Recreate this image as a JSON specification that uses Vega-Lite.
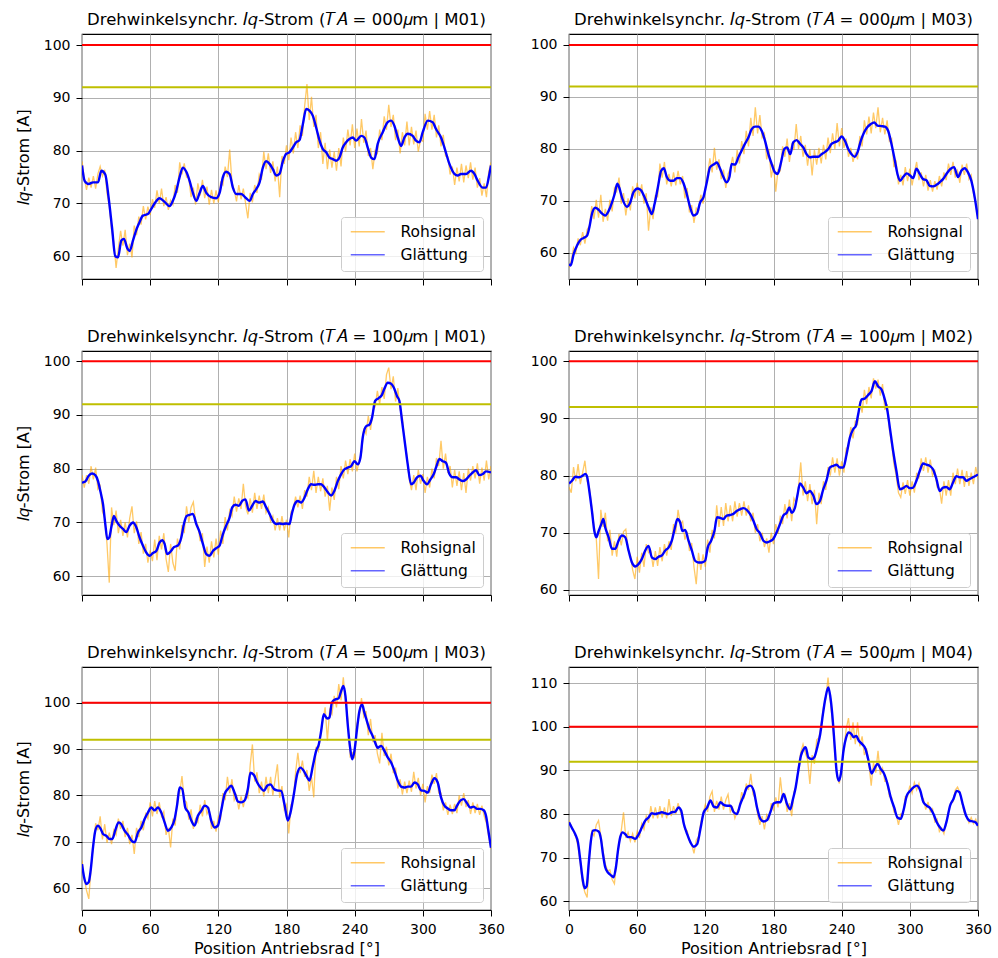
{
  "$schema": "https://vega.github.io/schema/vega-lite/v6.json",
  "background": "white",
  "padding": {"left": 14, "top": 10, "right": 5, "bottom": 2},
  "columns": 2,
  "spacing": {"row": 72, "column": 78},
  "bounds": "flush",
  "resolve": {"scale": {"x": "independent", "y": "independent", "color": "independent"}},
  "config": {
    "view": {"stroke": "#000000", "strokeWidth": 1.2},
    "title": {"font": "DejaVu Sans", "fontSize": 16.5, "fontWeight": "normal", "color": "#000000", "offset": 6},
    "axis": {
      "grid": true, "gridColor": "#b0b0b0", "gridWidth": 1, "domain": false,
      "tickColor": "#000000", "tickSize": 6, "tickWidth": 1,
      "labelFont": "DejaVu Sans", "labelFontSize": 14, "labelColor": "#000000", "labelPadding": 6,
      "labelFlush": false, "labelOverlap": false, "labelBound": false,
      "titleFont": "DejaVu Sans", "titleFontSize": 16, "titleFontWeight": "normal", "titleColor": "#000000"
    },
    "axisX": {"titlePadding": 4},
    "axisY": {"titlePadding": 12},
    "legend": {
      "orient": "bottom-right", "offset": 8, "padding": 7, "strokeColor": "#cccccc", "fillColor": "rgba(255,255,255,0.8)",
      "cornerRadius": 3, "symbolType": "M-1,0H5.8", "symbolSize": 100, "symbolFillColor": "transparent",
      "labelOffset": 37, "labelFont": "DejaVu Sans", "labelFontSize": 15.5, "labelColor": "#000000", "rowPadding": 6
    }
  },
  "datasets": {
    "raw1": [{"x":0,"v":78},{"x":2,"v":74.8},{"x":4,"v":72.6},{"x":6,"v":74.9},{"x":8,"v":73},{"x":10,"v":75.2},{"x":12,"v":72.8},{"x":14,"v":75.6},{"x":16,"v":77},{"x":18,"v":75.2},{"x":20,"v":76.4},{"x":22,"v":72},{"x":24,"v":69.5},{"x":26,"v":65},{"x":28,"v":62.8},{"x":30,"v":57.8},{"x":32,"v":61.5},{"x":34,"v":64.8},{"x":36,"v":62},{"x":38,"v":65},{"x":40,"v":60.2},{"x":42,"v":62.4},{"x":44,"v":59.8},{"x":46,"v":65.8},{"x":48,"v":64},{"x":50,"v":67.5},{"x":52,"v":66},{"x":54,"v":69.5},{"x":56,"v":67},{"x":58,"v":69.4},{"x":60,"v":67.8},{"x":62,"v":70.8},{"x":64,"v":69.2},{"x":66,"v":72.5},{"x":68,"v":70},{"x":70,"v":72.8},{"x":72,"v":69.5},{"x":74,"v":71.2},{"x":76,"v":68.8},{"x":78,"v":70.6},{"x":80,"v":69.8},{"x":82,"v":73.5},{"x":84,"v":72},{"x":86,"v":77.8},{"x":88,"v":75.5},{"x":90,"v":77.6},{"x":92,"v":75},{"x":94,"v":74.8},{"x":96,"v":71.2},{"x":98,"v":73},{"x":100,"v":69.8},{"x":102,"v":73.8},{"x":104,"v":71.5},{"x":106,"v":74.5},{"x":108,"v":71},{"x":110,"v":73.2},{"x":112,"v":69.8},{"x":114,"v":72.6},{"x":116,"v":70},{"x":118,"v":72.5},{"x":120,"v":70.2},{"x":122,"v":74},{"x":124,"v":73.5},{"x":126,"v":77},{"x":128,"v":75},{"x":130,"v":80.2},{"x":132,"v":74},{"x":134,"v":72.5},{"x":136,"v":70.4},{"x":138,"v":73.5},{"x":140,"v":70.8},{"x":142,"v":72.8},{"x":144,"v":70},{"x":146,"v":67.2},{"x":148,"v":72},{"x":150,"v":70.2},{"x":152,"v":73.5},{"x":154,"v":72},{"x":156,"v":75.5},{"x":158,"v":74.5},{"x":160,"v":79.8},{"x":162,"v":76.5},{"x":164,"v":79.5},{"x":166,"v":75.8},{"x":168,"v":78},{"x":170,"v":74.2},{"x":172,"v":77},{"x":174,"v":71.2},{"x":176,"v":79},{"x":178,"v":77.5},{"x":180,"v":81},{"x":182,"v":78.2},{"x":184,"v":82.5},{"x":186,"v":79.5},{"x":188,"v":83.5},{"x":190,"v":80.5},{"x":192,"v":84.8},{"x":194,"v":82.8},{"x":196,"v":88.5},{"x":198,"v":92.6},{"x":200,"v":85.8},{"x":202,"v":90.2},{"x":204,"v":84.5},{"x":206,"v":86.8},{"x":208,"v":80.5},{"x":210,"v":83.5},{"x":212,"v":77.5},{"x":214,"v":81.5},{"x":216,"v":76.5},{"x":218,"v":80.2},{"x":220,"v":76.8},{"x":222,"v":79.8},{"x":224,"v":76.2},{"x":226,"v":80.5},{"x":228,"v":77},{"x":230,"v":82.5},{"x":232,"v":79.8},{"x":234,"v":84},{"x":236,"v":81},{"x":238,"v":85},{"x":240,"v":80.5},{"x":242,"v":84.2},{"x":244,"v":80.8},{"x":246,"v":86},{"x":248,"v":81.5},{"x":250,"v":83.8},{"x":252,"v":79},{"x":254,"v":80.5},{"x":256,"v":76.5},{"x":258,"v":80},{"x":260,"v":79.5},{"x":262,"v":84},{"x":264,"v":82},{"x":266,"v":86.5},{"x":268,"v":84},{"x":270,"v":88.7},{"x":272,"v":84.5},{"x":274,"v":86.8},{"x":276,"v":82},{"x":278,"v":84},{"x":280,"v":79.5},{"x":282,"v":83.5},{"x":284,"v":81},{"x":286,"v":85.5},{"x":288,"v":81},{"x":290,"v":84.5},{"x":292,"v":81.2},{"x":294,"v":83.8},{"x":296,"v":79.8},{"x":298,"v":82},{"x":300,"v":81.8},{"x":302,"v":87},{"x":304,"v":84},{"x":306,"v":87.5},{"x":308,"v":84},{"x":310,"v":86.8},{"x":312,"v":82.5},{"x":314,"v":84.8},{"x":316,"v":80.8},{"x":318,"v":83},{"x":320,"v":79},{"x":322,"v":78.8},{"x":324,"v":75.5},{"x":326,"v":77},{"x":328,"v":73.5},{"x":330,"v":76.8},{"x":332,"v":74.2},{"x":334,"v":77.5},{"x":336,"v":74},{"x":338,"v":77.2},{"x":340,"v":74.8},{"x":342,"v":77.8},{"x":344,"v":74.5},{"x":346,"v":76.8},{"x":348,"v":73},{"x":350,"v":74.8},{"x":352,"v":71.5},{"x":354,"v":73.8},{"x":356,"v":71.2},{"x":358,"v":76},{"x":360,"v":77.8}],
    "glatt1": [{"x":0,"v":77.2},{"x":2.3,"v":74.3},{"x":5.9,"v":73.7},{"x":9.7,"v":74},{"x":14.1,"v":74},{"x":17,"v":76.2},{"x":20.5,"v":75.5},{"x":23.5,"v":71},{"x":26.4,"v":65.5},{"x":29.3,"v":60},{"x":31.7,"v":59.8},{"x":34.6,"v":63},{"x":36.9,"v":63.3},{"x":39.9,"v":61.5},{"x":41.9,"v":61},{"x":44.9,"v":63},{"x":47.8,"v":65},{"x":50.7,"v":66.5},{"x":53.6,"v":67.7},{"x":58,"v":68},{"x":61,"v":69},{"x":63.9,"v":70},{"x":68.3,"v":71},{"x":72.7,"v":70.3},{"x":77.1,"v":69.5},{"x":80,"v":70.5},{"x":83,"v":72.4},{"x":85.9,"v":75},{"x":88.8,"v":76.8},{"x":91.8,"v":76},{"x":94.7,"v":74.3},{"x":97.6,"v":72},{"x":100.6,"v":70.5},{"x":103.5,"v":72},{"x":106.4,"v":73.3},{"x":109.4,"v":72},{"x":113.7,"v":71.2},{"x":118.1,"v":71},{"x":121.1,"v":72},{"x":124,"v":75},{"x":126.9,"v":76},{"x":129.9,"v":75.6},{"x":132.8,"v":73},{"x":135.7,"v":71.8},{"x":140.1,"v":71.8},{"x":144.5,"v":71},{"x":147.5,"v":70.5},{"x":150.4,"v":71.8},{"x":153.3,"v":72.7},{"x":156.3,"v":74},{"x":159.2,"v":76.8},{"x":162.1,"v":78},{"x":165.1,"v":77.5},{"x":168,"v":76.5},{"x":170.9,"v":75.3},{"x":173.8,"v":75.6},{"x":176.8,"v":78},{"x":179.7,"v":79.4},{"x":182.6,"v":79.7},{"x":185.6,"v":80.6},{"x":188.5,"v":81.6},{"x":191.4,"v":82},{"x":194.4,"v":85},{"x":197.3,"v":87.9},{"x":200.2,"v":87.6},{"x":203.2,"v":86.6},{"x":206.1,"v":84.4},{"x":209,"v":82},{"x":212,"v":80.3},{"x":214.9,"v":79.7},{"x":217.8,"v":78.7},{"x":220.8,"v":78.4},{"x":223.7,"v":78.1},{"x":226.6,"v":78.7},{"x":229.5,"v":80.6},{"x":232.5,"v":81.6},{"x":235.4,"v":82.2},{"x":238.3,"v":82.5},{"x":241.3,"v":81.9},{"x":245.7,"v":82.8},{"x":248.6,"v":82.5},{"x":251.5,"v":80.6},{"x":254.5,"v":78.7},{"x":257.4,"v":78.4},{"x":260.3,"v":81.3},{"x":264.7,"v":83.5},{"x":269.1,"v":85.4},{"x":272.1,"v":85.7},{"x":275,"v":84.7},{"x":277.9,"v":82.5},{"x":280.9,"v":80.9},{"x":283.8,"v":82.5},{"x":286.7,"v":83.2},{"x":291.1,"v":82.8},{"x":294,"v":81.9},{"x":297,"v":81.6},{"x":299.9,"v":83.5},{"x":304.3,"v":85.7},{"x":308.7,"v":85.4},{"x":311.6,"v":84.1},{"x":316,"v":82.5},{"x":319,"v":80.6},{"x":323.4,"v":77.5},{"x":327.8,"v":75.6},{"x":330.7,"v":75.3},{"x":333.6,"v":75.6},{"x":338,"v":75.6},{"x":342.4,"v":76.2},{"x":345.4,"v":75.6},{"x":348.3,"v":74.3},{"x":352.7,"v":73},{"x":355.6,"v":73},{"x":358.6,"v":75.6},{"x":360,"v":77.2}],
    "raw2": [{"x":0,"v":57.2},{"x":2,"v":58.5},{"x":4,"v":61},{"x":6,"v":60},{"x":8,"v":62.8},{"x":10,"v":61.5},{"x":12,"v":64},{"x":14,"v":61.8},{"x":16,"v":64.5},{"x":18,"v":65.2},{"x":20,"v":69},{"x":22,"v":66.5},{"x":24,"v":70.2},{"x":26,"v":66.8},{"x":28,"v":71.2},{"x":30,"v":66},{"x":32,"v":68.5},{"x":34,"v":66.2},{"x":36,"v":70.2},{"x":38,"v":68},{"x":40,"v":72.5},{"x":42,"v":71.8},{"x":44,"v":74.5},{"x":46,"v":69.5},{"x":48,"v":71.5},{"x":50,"v":67.2},{"x":52,"v":70.5},{"x":54,"v":68.2},{"x":56,"v":72.8},{"x":58,"v":70.5},{"x":60,"v":73.5},{"x":62,"v":71},{"x":64,"v":73.2},{"x":66,"v":69.5},{"x":68,"v":71.5},{"x":70,"v":64.3},{"x":72,"v":68.8},{"x":74,"v":66.5},{"x":76,"v":71},{"x":78,"v":70.8},{"x":80,"v":77.2},{"x":82,"v":74.5},{"x":84,"v":77.5},{"x":86,"v":73.2},{"x":88,"v":75.2},{"x":90,"v":72.8},{"x":92,"v":75.5},{"x":94,"v":73},{"x":96,"v":75.8},{"x":98,"v":73.2},{"x":100,"v":74.8},{"x":102,"v":70.5},{"x":104,"v":72.5},{"x":106,"v":67.8},{"x":108,"v":69.2},{"x":110,"v":65.8},{"x":112,"v":68.6},{"x":114,"v":68},{"x":116,"v":71.2},{"x":118,"v":69.5},{"x":120,"v":72.5},{"x":122,"v":75},{"x":124,"v":78.2},{"x":126,"v":75.5},{"x":128,"v":80.2},{"x":130,"v":76},{"x":132,"v":78},{"x":134,"v":74.2},{"x":136,"v":76},{"x":138,"v":72.5},{"x":140,"v":75.2},{"x":142,"v":76.2},{"x":144,"v":78.5},{"x":146,"v":75.5},{"x":148,"v":79.8},{"x":150,"v":77.2},{"x":152,"v":81.5},{"x":154,"v":79},{"x":156,"v":83.5},{"x":158,"v":80.5},{"x":160,"v":86},{"x":162,"v":82.5},{"x":164,"v":88},{"x":166,"v":83},{"x":168,"v":86.5},{"x":170,"v":82.2},{"x":172,"v":83},{"x":174,"v":78},{"x":176,"v":80},{"x":178,"v":74.5},{"x":180,"v":77},{"x":182,"v":71.8},{"x":184,"v":76},{"x":186,"v":75.8},{"x":188,"v":80.5},{"x":190,"v":78.5},{"x":192,"v":82},{"x":194,"v":77.5},{"x":196,"v":80.8},{"x":198,"v":79.8},{"x":200,"v":84.8},{"x":202,"v":80},{"x":204,"v":82.5},{"x":206,"v":78.5},{"x":208,"v":80.8},{"x":210,"v":76.8},{"x":212,"v":80},{"x":214,"v":74.9},{"x":216,"v":79.8},{"x":218,"v":77},{"x":220,"v":80.2},{"x":222,"v":77.2},{"x":224,"v":80.8},{"x":226,"v":78},{"x":228,"v":82.2},{"x":230,"v":79.2},{"x":232,"v":83},{"x":234,"v":80},{"x":236,"v":85},{"x":238,"v":80.5},{"x":240,"v":84},{"x":242,"v":80.2},{"x":244,"v":82},{"x":246,"v":78.5},{"x":248,"v":80.2},{"x":250,"v":77.5},{"x":252,"v":79.2},{"x":254,"v":78},{"x":256,"v":82.5},{"x":258,"v":80.5},{"x":260,"v":85.5},{"x":262,"v":82.8},{"x":264,"v":86.2},{"x":266,"v":83},{"x":268,"v":87},{"x":270,"v":84},{"x":272,"v":88},{"x":274,"v":83.2},{"x":276,"v":86},{"x":278,"v":82.8},{"x":280,"v":85.5},{"x":282,"v":81.5},{"x":284,"v":82},{"x":286,"v":76.5},{"x":288,"v":77.5},{"x":290,"v":73.2},{"x":292,"v":75},{"x":294,"v":73},{"x":296,"v":76.5},{"x":298,"v":73.8},{"x":300,"v":76.2},{"x":302,"v":73},{"x":304,"v":75.5},{"x":306,"v":77.5},{"x":308,"v":74},{"x":310,"v":75.5},{"x":312,"v":72.8},{"x":314,"v":75},{"x":316,"v":72},{"x":318,"v":74},{"x":320,"v":71.8},{"x":322,"v":73.8},{"x":324,"v":72.2},{"x":326,"v":74.8},{"x":328,"v":72.8},{"x":330,"v":75.5},{"x":332,"v":74},{"x":334,"v":77.2},{"x":336,"v":75},{"x":338,"v":77.5},{"x":340,"v":74.5},{"x":342,"v":75.8},{"x":344,"v":73.5},{"x":346,"v":77},{"x":348,"v":75},{"x":350,"v":77.2},{"x":352,"v":74.2},{"x":354,"v":75},{"x":356,"v":71.5},{"x":358,"v":69.5},{"x":360,"v":66.5}],
    "glatt2": [{"x":0,"v":57.9},{"x":1.5,"v":57.6},{"x":4.1,"v":59.8},{"x":7,"v":61.4},{"x":10,"v":62.5},{"x":12.9,"v":62.9},{"x":15.8,"v":63.3},{"x":17.9,"v":64.9},{"x":20.2,"v":67.5},{"x":23.1,"v":68.7},{"x":26.1,"v":68.3},{"x":29,"v":67.6},{"x":31.9,"v":67.2},{"x":34.9,"v":68.1},{"x":37.8,"v":69.7},{"x":40.1,"v":71.3},{"x":42.5,"v":73.3},{"x":44.2,"v":72.6},{"x":46.6,"v":70.7},{"x":51,"v":68.9},{"x":53.9,"v":69.7},{"x":56.8,"v":71.7},{"x":60.6,"v":72.4},{"x":63.6,"v":72},{"x":66.5,"v":70.7},{"x":70,"v":68.8},{"x":72.9,"v":67.5},{"x":75.3,"v":69.4},{"x":78.2,"v":72.6},{"x":81.1,"v":75.8},{"x":83.5,"v":76.3},{"x":86.1,"v":74.6},{"x":89.1,"v":73.9},{"x":92,"v":73.9},{"x":94.9,"v":74.4},{"x":97.8,"v":74.4},{"x":100.8,"v":73.4},{"x":103.7,"v":71.3},{"x":106.6,"v":68.8},{"x":109.5,"v":67.2},{"x":112.5,"v":67.5},{"x":115.4,"v":69.7},{"x":118.3,"v":70.7},{"x":121.3,"v":73.6},{"x":124.2,"v":76.5},{"x":128,"v":77.1},{"x":130.1,"v":77.4},{"x":133,"v":76.2},{"x":135.9,"v":74.6},{"x":138.8,"v":73.6},{"x":141.2,"v":74.6},{"x":143.2,"v":77.1},{"x":146.2,"v":77},{"x":149.1,"v":78.4},{"x":152,"v":79.7},{"x":154.9,"v":81},{"x":157.9,"v":82.2},{"x":160.8,"v":83.8},{"x":163.7,"v":84.3},{"x":166.7,"v":84.3},{"x":169.6,"v":83.5},{"x":172.5,"v":81.6},{"x":175.5,"v":79},{"x":178.4,"v":77.1},{"x":181.3,"v":75.5},{"x":183.7,"v":75.2},{"x":186.6,"v":77.4},{"x":189.5,"v":80},{"x":191.9,"v":80.3},{"x":194.8,"v":79},{"x":197.4,"v":81.3},{"x":200.4,"v":81.7},{"x":203.3,"v":81},{"x":206.2,"v":80.3},{"x":209.1,"v":79},{"x":212.1,"v":78.4},{"x":215,"v":78.5},{"x":219.4,"v":78.5},{"x":222.3,"v":79},{"x":225.2,"v":79.4},{"x":228.2,"v":80},{"x":231.1,"v":81},{"x":234,"v":81.3},{"x":237,"v":81.6},{"x":239.9,"v":82.4},{"x":242.8,"v":81.6},{"x":245.8,"v":80},{"x":248.7,"v":79},{"x":251.6,"v":78.5},{"x":254,"v":79.4},{"x":256.9,"v":81.6},{"x":259.8,"v":83.2},{"x":262.7,"v":84.2},{"x":265.7,"v":84.8},{"x":268.6,"v":85.1},{"x":271.5,"v":84.5},{"x":275,"v":84.4},{"x":278,"v":84.3},{"x":280.9,"v":83.5},{"x":283.8,"v":81},{"x":286.8,"v":77.8},{"x":289.1,"v":75.2},{"x":291.4,"v":73.9},{"x":294.4,"v":74.7},{"x":297.3,"v":75.3},{"x":300.2,"v":74.9},{"x":302.9,"v":74.4},{"x":305.8,"v":76.2},{"x":308.7,"v":75.2},{"x":311.7,"v":74.2},{"x":314.6,"v":74},{"x":317.5,"v":72.9},{"x":320.4,"v":72.8},{"x":323.4,"v":73.1},{"x":326.3,"v":73.6},{"x":329.2,"v":74.2},{"x":332.2,"v":75.2},{"x":336,"v":76.2},{"x":338.9,"v":76.5},{"x":342.4,"v":74.6},{"x":345.3,"v":75.8},{"x":348.3,"v":76.3},{"x":351.2,"v":75.5},{"x":354.1,"v":73.9},{"x":357.1,"v":70.7},{"x":360,"v":66.5}],
    "raw3": [{"x":0,"v":78.8},{"x":2,"v":76.5},{"x":4,"v":78.8},{"x":6,"v":77.2},{"x":8,"v":80.5},{"x":10,"v":78},{"x":12,"v":80.2},{"x":14,"v":76.2},{"x":16,"v":76.8},{"x":18,"v":72},{"x":20,"v":70.8},{"x":22,"v":66},{"x":24,"v":58.8},{"x":26,"v":72.8},{"x":28,"v":69.5},{"x":30,"v":72.2},{"x":32,"v":68},{"x":34,"v":70.5},{"x":36,"v":67.5},{"x":38,"v":70},{"x":40,"v":67.2},{"x":42,"v":70.8},{"x":44,"v":73},{"x":46,"v":68},{"x":48,"v":70.2},{"x":50,"v":66},{"x":52,"v":68.2},{"x":54,"v":64.2},{"x":56,"v":66},{"x":58,"v":62.5},{"x":60,"v":64.8},{"x":62,"v":62.8},{"x":64,"v":66.8},{"x":66,"v":63},{"x":68,"v":67.5},{"x":70,"v":65},{"x":72,"v":68},{"x":74,"v":63.2},{"x":76,"v":60.8},{"x":78,"v":66},{"x":80,"v":62.5},{"x":82,"v":61},{"x":84,"v":67},{"x":86,"v":65},{"x":88,"v":69.5},{"x":90,"v":68},{"x":92,"v":73},{"x":94,"v":70},{"x":96,"v":72.8},{"x":98,"v":73.8},{"x":100,"v":70.2},{"x":102,"v":69.5},{"x":104,"v":66.5},{"x":106,"v":68},{"x":108,"v":61.7},{"x":110,"v":65.5},{"x":112,"v":62.5},{"x":114,"v":66.5},{"x":116,"v":63.5},{"x":118,"v":67},{"x":120,"v":64},{"x":122,"v":68.5},{"x":124,"v":66},{"x":126,"v":71},{"x":128,"v":68.5},{"x":130,"v":72.2},{"x":132,"v":71.2},{"x":134,"v":74.8},{"x":136,"v":72},{"x":138,"v":74.5},{"x":140,"v":72.5},{"x":142,"v":77.2},{"x":144,"v":73},{"x":146,"v":71.5},{"x":148,"v":74.5},{"x":150,"v":71.8},{"x":152,"v":75.5},{"x":154,"v":72.5},{"x":156,"v":75},{"x":158,"v":72.5},{"x":160,"v":75.2},{"x":162,"v":71.8},{"x":164,"v":72.8},{"x":166,"v":70.2},{"x":168,"v":71.2},{"x":170,"v":68.5},{"x":172,"v":70.8},{"x":174,"v":68.5},{"x":176,"v":71.2},{"x":178,"v":68.5},{"x":180,"v":70.5},{"x":182,"v":67.2},{"x":184,"v":72},{"x":186,"v":72.5},{"x":188,"v":74.8},{"x":190,"v":72.8},{"x":192,"v":75},{"x":194,"v":72.5},{"x":196,"v":76},{"x":198,"v":74.8},{"x":200,"v":78.5},{"x":202,"v":76},{"x":204,"v":79.6},{"x":206,"v":75.5},{"x":208,"v":78.5},{"x":210,"v":75.8},{"x":212,"v":78.2},{"x":214,"v":74.8},{"x":216,"v":76.8},{"x":218,"v":72.2},{"x":220,"v":76.5},{"x":222,"v":74.2},{"x":224,"v":78.5},{"x":226,"v":76.2},{"x":228,"v":80.5},{"x":230,"v":78.2},{"x":232,"v":81.5},{"x":234,"v":79},{"x":236,"v":81.8},{"x":238,"v":79.5},{"x":240,"v":82.8},{"x":242,"v":79.5},{"x":244,"v":81.5},{"x":246,"v":83},{"x":248,"v":87.5},{"x":250,"v":86.5},{"x":252,"v":89.8},{"x":254,"v":87.2},{"x":256,"v":90.8},{"x":258,"v":91.5},{"x":260,"v":94.5},{"x":262,"v":92},{"x":264,"v":95.2},{"x":266,"v":93},{"x":268,"v":97.5},{"x":270,"v":98.8},{"x":272,"v":94.8},{"x":274,"v":97.2},{"x":276,"v":92.5},{"x":278,"v":95},{"x":280,"v":91},{"x":282,"v":89.5},{"x":284,"v":85},{"x":286,"v":82.5},{"x":288,"v":78},{"x":290,"v":76},{"x":292,"v":78.8},{"x":294,"v":76},{"x":296,"v":79.8},{"x":298,"v":77.2},{"x":300,"v":79},{"x":302,"v":75.5},{"x":304,"v":78.5},{"x":306,"v":76.5},{"x":308,"v":80},{"x":310,"v":78.2},{"x":312,"v":82},{"x":314,"v":80.5},{"x":316,"v":85.2},{"x":318,"v":80},{"x":320,"v":82.8},{"x":322,"v":79.2},{"x":324,"v":80.5},{"x":326,"v":76.5},{"x":328,"v":79.8},{"x":330,"v":76.8},{"x":332,"v":79.5},{"x":334,"v":76},{"x":336,"v":79.2},{"x":338,"v":75.5},{"x":340,"v":80},{"x":342,"v":77.8},{"x":344,"v":80.5},{"x":346,"v":78.2},{"x":348,"v":81},{"x":350,"v":77.2},{"x":352,"v":80.2},{"x":354,"v":77.8},{"x":356,"v":81.5},{"x":358,"v":78},{"x":360,"v":80.5}],
    "glatt3": [{"x":0,"v":77.4},{"x":2.9,"v":77.6},{"x":5.9,"v":78.7},{"x":8.8,"v":79.1},{"x":11.7,"v":78.8},{"x":14.1,"v":77.7},{"x":16.4,"v":75.6},{"x":18.5,"v":73.4},{"x":20.5,"v":69.7},{"x":22.3,"v":66.9},{"x":24,"v":67.2},{"x":25.8,"v":69.1},{"x":28.1,"v":71.2},{"x":30.2,"v":70.3},{"x":33.1,"v":69.4},{"x":36.1,"v":68.8},{"x":39,"v":68.2},{"x":41.9,"v":69.4},{"x":44.9,"v":70},{"x":47.8,"v":69.1},{"x":50.7,"v":67.2},{"x":53.6,"v":65.7},{"x":56.6,"v":64.4},{"x":59.5,"v":63.8},{"x":62.4,"v":64.3},{"x":65.4,"v":64.7},{"x":68.3,"v":66.3},{"x":70.7,"v":66.7},{"x":72.7,"v":66},{"x":75,"v":64.1},{"x":78,"v":64.6},{"x":80.9,"v":65.4},{"x":84.4,"v":65.7},{"x":87.4,"v":67.2},{"x":89.7,"v":69.7},{"x":92.1,"v":71.2},{"x":94.7,"v":71.4},{"x":97.6,"v":71.6},{"x":100.6,"v":69.7},{"x":103.5,"v":68.2},{"x":106.4,"v":66},{"x":109.4,"v":64.1},{"x":112.3,"v":63.8},{"x":115.2,"v":64.7},{"x":118.1,"v":65.2},{"x":121.1,"v":65.7},{"x":124,"v":67.8},{"x":126.9,"v":69.4},{"x":129.9,"v":70.9},{"x":132.2,"v":72.8},{"x":135.1,"v":73.3},{"x":138.1,"v":73.1},{"x":141,"v":74},{"x":143.9,"v":74.3},{"x":146.9,"v":72.2},{"x":149.8,"v":73.1},{"x":152.7,"v":74},{"x":155.7,"v":73.7},{"x":159.2,"v":73.9},{"x":162.1,"v":72.8},{"x":165.1,"v":71.6},{"x":168,"v":70.3},{"x":170.9,"v":69.7},{"x":173.8,"v":69.8},{"x":176.8,"v":69.7},{"x":179.7,"v":69.8},{"x":182.6,"v":69.7},{"x":184.7,"v":71.6},{"x":187,"v":73.3},{"x":190,"v":74},{"x":192.9,"v":73.7},{"x":195.8,"v":74.6},{"x":198.8,"v":76.2},{"x":201.7,"v":77.1},{"x":204.6,"v":77},{"x":207.6,"v":77.1},{"x":210.5,"v":77.1},{"x":213.4,"v":76.5},{"x":216.4,"v":75.6},{"x":219.3,"v":75},{"x":222.2,"v":75.9},{"x":225.2,"v":77.7},{"x":228.1,"v":79},{"x":231,"v":79.9},{"x":233.9,"v":80.2},{"x":236.9,"v":80.5},{"x":239.8,"v":81.4},{"x":242.7,"v":80.8},{"x":245.1,"v":82.1},{"x":247.1,"v":85.8},{"x":250.1,"v":87.9},{"x":253,"v":88.2},{"x":255.3,"v":89.5},{"x":258,"v":92.6},{"x":260.9,"v":93.1},{"x":263.9,"v":93.7},{"x":266.2,"v":94.9},{"x":269.1,"v":96},{"x":272.1,"v":95.8},{"x":274.4,"v":95.1},{"x":277.3,"v":93.5},{"x":279.4,"v":92.6},{"x":281.7,"v":88.9},{"x":284.4,"v":84.5},{"x":286.7,"v":80.8},{"x":289.7,"v":77.1},{"x":292,"v":77.4},{"x":294.9,"v":78.4},{"x":297.9,"v":78.7},{"x":300.8,"v":77.7},{"x":303.7,"v":77.1},{"x":306.7,"v":78},{"x":309.6,"v":79},{"x":311.6,"v":80.2},{"x":314.6,"v":81.8},{"x":317.5,"v":81.4},{"x":320.4,"v":81.1},{"x":323.4,"v":79},{"x":326.3,"v":78.4},{"x":329.2,"v":78.4},{"x":332.2,"v":78},{"x":335.1,"v":77.7},{"x":338,"v":78},{"x":341,"v":78.7},{"x":343.9,"v":79.3},{"x":346.8,"v":79.7},{"x":349.8,"v":78.8},{"x":352.7,"v":79},{"x":355.6,"v":79.5},{"x":360,"v":79.3}],
    "raw4": [{"x":0,"v":78},{"x":2,"v":77},{"x":4,"v":81.5},{"x":6,"v":79},{"x":8,"v":82},{"x":10,"v":78.5},{"x":12,"v":80.5},{"x":14,"v":82.6},{"x":16,"v":79},{"x":18,"v":77.8},{"x":20,"v":74.5},{"x":22,"v":71.2},{"x":24,"v":69},{"x":26,"v":61.9},{"x":28,"v":74},{"x":30,"v":71},{"x":32,"v":73.5},{"x":34,"v":68.5},{"x":36,"v":70.5},{"x":38,"v":66},{"x":40,"v":68.5},{"x":42,"v":65.8},{"x":44,"v":69.8},{"x":46,"v":67.8},{"x":48,"v":70.2},{"x":50,"v":70.6},{"x":52,"v":67},{"x":54,"v":66.2},{"x":56,"v":63.5},{"x":58,"v":61.9},{"x":60,"v":65.8},{"x":62,"v":63},{"x":64,"v":66.5},{"x":66,"v":64},{"x":68,"v":68},{"x":70,"v":66.5},{"x":72,"v":66.8},{"x":74,"v":64},{"x":76,"v":66.8},{"x":78,"v":64.2},{"x":80,"v":67.5},{"x":82,"v":65},{"x":84,"v":68},{"x":86,"v":66},{"x":88,"v":68.5},{"x":90,"v":67},{"x":92,"v":71.5},{"x":94,"v":70},{"x":96,"v":74},{"x":98,"v":71.5},{"x":100,"v":72},{"x":102,"v":68.8},{"x":104,"v":70.2},{"x":106,"v":66.8},{"x":108,"v":68.2},{"x":110,"v":64},{"x":112,"v":61},{"x":114,"v":66.5},{"x":116,"v":63.5},{"x":118,"v":66.2},{"x":120,"v":64},{"x":122,"v":68.8},{"x":124,"v":66.5},{"x":126,"v":70.5},{"x":128,"v":69},{"x":130,"v":74.8},{"x":132,"v":71},{"x":134,"v":74.5},{"x":136,"v":71.2},{"x":138,"v":75.2},{"x":140,"v":72},{"x":142,"v":74.8},{"x":144,"v":72},{"x":146,"v":75.5},{"x":148,"v":72.8},{"x":150,"v":75.2},{"x":152,"v":73},{"x":154,"v":75.5},{"x":156,"v":73},{"x":158,"v":74.8},{"x":160,"v":72},{"x":162,"v":73.5},{"x":164,"v":70},{"x":166,"v":71.5},{"x":168,"v":68.5},{"x":170,"v":70},{"x":172,"v":67.5},{"x":174,"v":69},{"x":176,"v":66.5},{"x":178,"v":70},{"x":180,"v":68},{"x":182,"v":71.5},{"x":184,"v":69.8},{"x":186,"v":73},{"x":188,"v":71.5},{"x":190,"v":75},{"x":192,"v":72.5},{"x":194,"v":75.8},{"x":196,"v":72},{"x":198,"v":76},{"x":200,"v":75.2},{"x":202,"v":78},{"x":204,"v":82.3},{"x":206,"v":76.5},{"x":208,"v":79},{"x":210,"v":75.5},{"x":212,"v":78.5},{"x":214,"v":75},{"x":216,"v":77.5},{"x":218,"v":71.5},{"x":220,"v":77},{"x":222,"v":75},{"x":224,"v":79},{"x":226,"v":77.5},{"x":228,"v":81.5},{"x":230,"v":80},{"x":232,"v":83.2},{"x":234,"v":80.5},{"x":236,"v":83},{"x":238,"v":80},{"x":240,"v":82.5},{"x":242,"v":80.5},{"x":244,"v":84.8},{"x":246,"v":85},{"x":248,"v":88.5},{"x":250,"v":86.5},{"x":252,"v":89.5},{"x":254,"v":89},{"x":256,"v":93},{"x":258,"v":91},{"x":260,"v":95},{"x":262,"v":92.5},{"x":264,"v":95.5},{"x":266,"v":93.5},{"x":268,"v":97},{"x":270,"v":95.2},{"x":272,"v":96.8},{"x":274,"v":94},{"x":276,"v":96},{"x":278,"v":91.5},{"x":280,"v":92.5},{"x":282,"v":88},{"x":284,"v":85.5},{"x":286,"v":82},{"x":288,"v":80},{"x":290,"v":77},{"x":292,"v":76.2},{"x":294,"v":78.8},{"x":296,"v":76.8},{"x":298,"v":79.2},{"x":300,"v":76.5},{"x":302,"v":79},{"x":304,"v":77},{"x":306,"v":80.5},{"x":308,"v":79.5},{"x":310,"v":83},{"x":312,"v":80.8},{"x":314,"v":83.2},{"x":316,"v":80.5},{"x":318,"v":82.8},{"x":320,"v":80},{"x":322,"v":80.8},{"x":324,"v":78},{"x":326,"v":77.8},{"x":328,"v":75.1},{"x":330,"v":79},{"x":332,"v":76.5},{"x":334,"v":79.2},{"x":336,"v":76.5},{"x":338,"v":80.5},{"x":340,"v":78.5},{"x":342,"v":81.2},{"x":344,"v":78.5},{"x":346,"v":81},{"x":348,"v":78},{"x":350,"v":80.8},{"x":352,"v":78.2},{"x":354,"v":80.5},{"x":356,"v":78.5},{"x":358,"v":81.5},{"x":360,"v":79.5}],
    "glatt4": [{"x":0,"v":78.6},{"x":2.6,"v":79.1},{"x":5.6,"v":79.8},{"x":8.5,"v":79.7},{"x":11.4,"v":79.9},{"x":14.4,"v":80.3},{"x":15.8,"v":79.9},{"x":17.9,"v":77.3},{"x":20.2,"v":73.8},{"x":22.3,"v":70.3},{"x":24,"v":69.2},{"x":26.1,"v":70.3},{"x":28.4,"v":71.5},{"x":30.2,"v":72.4},{"x":31.9,"v":70.9},{"x":34.9,"v":69.2},{"x":37.8,"v":67.2},{"x":40.7,"v":67.2},{"x":43.6,"v":68.6},{"x":46.6,"v":69.5},{"x":49.5,"v":69.2},{"x":52.4,"v":66.9},{"x":55.4,"v":64.8},{"x":58.3,"v":64.1},{"x":61.2,"v":64.5},{"x":64.1,"v":65.4},{"x":67.1,"v":66.9},{"x":70,"v":67.7},{"x":72.9,"v":65.7},{"x":75.9,"v":65.4},{"x":78.8,"v":65.8},{"x":81.7,"v":66},{"x":84.7,"v":66.9},{"x":87.6,"v":67.4},{"x":90.5,"v":68.6},{"x":92.9,"v":70.6},{"x":95.5,"v":72.4},{"x":97.8,"v":71.8},{"x":99.9,"v":70.3},{"x":102.2,"v":70.5},{"x":105.2,"v":68.6},{"x":108.1,"v":66.9},{"x":111,"v":65.1},{"x":113.9,"v":64.8},{"x":116.9,"v":64.8},{"x":119.8,"v":65.1},{"x":122.1,"v":67.4},{"x":125.1,"v":68.6},{"x":128,"v":70.3},{"x":130.3,"v":72.7},{"x":133,"v":72.6},{"x":135.9,"v":72.4},{"x":138.8,"v":73},{"x":141.8,"v":73.1},{"x":144.7,"v":73.3},{"x":147.6,"v":73.8},{"x":150.6,"v":74.1},{"x":153.5,"v":74.3},{"x":156.4,"v":74},{"x":159.3,"v":73.3},{"x":162.3,"v":72.1},{"x":165.2,"v":70.6},{"x":168.1,"v":69.9},{"x":171.1,"v":68.6},{"x":174,"v":68.3},{"x":176.9,"v":68.5},{"x":179.8,"v":68.9},{"x":182.8,"v":70.1},{"x":185.7,"v":71.5},{"x":188.6,"v":73},{"x":191.6,"v":73.5},{"x":193.9,"v":74.4},{"x":196,"v":73.5},{"x":198.9,"v":74.4},{"x":201.2,"v":76.7},{"x":203.3,"v":78.6},{"x":206.2,"v":77.9},{"x":209.1,"v":76.9},{"x":212.1,"v":77.3},{"x":215,"v":76.5},{"x":217.9,"v":75},{"x":220.9,"v":75.6},{"x":223.8,"v":77.6},{"x":226.7,"v":79.2},{"x":229.6,"v":81.4},{"x":232.6,"v":81.7},{"x":235.5,"v":81.9},{"x":238.4,"v":81.4},{"x":241.4,"v":81.4},{"x":244.3,"v":83.7},{"x":247.2,"v":86.6},{"x":250.1,"v":88.1},{"x":252.5,"v":88.7},{"x":254.5,"v":90.7},{"x":257.5,"v":93.3},{"x":260.4,"v":93.5},{"x":263.3,"v":94.1},{"x":266.3,"v":94.8},{"x":269.2,"v":96.5},{"x":272.1,"v":95.6},{"x":275,"v":95.1},{"x":278,"v":93.3},{"x":280.3,"v":91.3},{"x":282.4,"v":88.4},{"x":285.3,"v":84.3},{"x":288.2,"v":80.8},{"x":291.2,"v":77.6},{"x":294.1,"v":77.8},{"x":297,"v":78.2},{"x":299.9,"v":77.8},{"x":302.9,"v":77.9},{"x":305.8,"v":79.1},{"x":308.7,"v":80.8},{"x":311.7,"v":82.1},{"x":314.6,"v":81.9},{"x":317.5,"v":81.7},{"x":320.4,"v":81.1},{"x":323.4,"v":79.4},{"x":326.3,"v":77.3},{"x":329.2,"v":77.9},{"x":332.2,"v":78},{"x":335.1,"v":77.6},{"x":338,"v":78.8},{"x":341,"v":79.9},{"x":343.9,"v":79.7},{"x":346.8,"v":79.7},{"x":349.8,"v":79.1},{"x":352.7,"v":79.4},{"x":355.6,"v":79.7},{"x":360,"v":80.2}],
    "raw5": [{"x":0,"v":66},{"x":2,"v":62},{"x":4,"v":59.5},{"x":6,"v":57.7},{"x":8,"v":64.5},{"x":10,"v":69.5},{"x":12,"v":74},{"x":14,"v":72.5},{"x":16,"v":75.5},{"x":18,"v":70.5},{"x":20,"v":73.8},{"x":22,"v":69.8},{"x":24,"v":72},{"x":26,"v":69.5},{"x":28,"v":72.5},{"x":30,"v":71.5},{"x":32,"v":75},{"x":34,"v":72.8},{"x":36,"v":74.5},{"x":38,"v":71},{"x":40,"v":73},{"x":42,"v":69.5},{"x":44,"v":71.5},{"x":46,"v":67.4},{"x":48,"v":73},{"x":50,"v":71},{"x":52,"v":74.5},{"x":54,"v":72.5},{"x":56,"v":76},{"x":58,"v":75},{"x":60,"v":78.5},{"x":62,"v":75.5},{"x":64,"v":78.8},{"x":66,"v":76},{"x":68,"v":78.5},{"x":70,"v":75.5},{"x":72,"v":76.5},{"x":74,"v":71.5},{"x":76,"v":73},{"x":78,"v":68.8},{"x":80,"v":75},{"x":82,"v":73.5},{"x":84,"v":79.5},{"x":86,"v":80.5},{"x":88,"v":84.2},{"x":90,"v":79},{"x":92,"v":78.5},{"x":94,"v":74.8},{"x":96,"v":77},{"x":98,"v":72.8},{"x":100,"v":75},{"x":102,"v":74.2},{"x":104,"v":78},{"x":106,"v":75.5},{"x":108,"v":79},{"x":110,"v":76},{"x":112,"v":77},{"x":114,"v":72.8},{"x":116,"v":74.5},{"x":118,"v":72.2},{"x":120,"v":75.5},{"x":122,"v":75},{"x":124,"v":80.5},{"x":126,"v":79},{"x":128,"v":84},{"x":130,"v":80.5},{"x":132,"v":83.5},{"x":134,"v":79},{"x":136,"v":80},{"x":138,"v":77},{"x":140,"v":79.8},{"x":142,"v":77.5},{"x":144,"v":80.2},{"x":146,"v":79.5},{"x":148,"v":86.5},{"x":150,"v":91},{"x":152,"v":83},{"x":154,"v":85},{"x":156,"v":80.5},{"x":158,"v":83},{"x":160,"v":79.8},{"x":162,"v":84},{"x":164,"v":80.5},{"x":166,"v":84},{"x":168,"v":80},{"x":170,"v":83.5},{"x":172,"v":86.7},{"x":174,"v":79.5},{"x":176,"v":82},{"x":178,"v":77},{"x":180,"v":78},{"x":182,"v":71.8},{"x":184,"v":78},{"x":186,"v":79},{"x":188,"v":85},{"x":190,"v":89.2},{"x":192,"v":84.8},{"x":194,"v":87.5},{"x":196,"v":84},{"x":198,"v":85.5},{"x":200,"v":81},{"x":202,"v":84},{"x":204,"v":79.6},{"x":206,"v":90.5},{"x":208,"v":89.5},{"x":210,"v":93},{"x":212,"v":96},{"x":214,"v":99},{"x":216,"v":91.8},{"x":218,"v":98.5},{"x":220,"v":97.5},{"x":222,"v":101.5},{"x":224,"v":99},{"x":226,"v":104},{"x":228,"v":100.5},{"x":230,"v":105.5},{"x":232,"v":100},{"x":234,"v":96.5},{"x":236,"v":88.5},{"x":238,"v":89.2},{"x":240,"v":88},{"x":242,"v":95.5},{"x":244,"v":97},{"x":246,"v":101},{"x":248,"v":97},{"x":250,"v":98.2},{"x":252,"v":93},{"x":254,"v":96.5},{"x":256,"v":91.5},{"x":258,"v":93},{"x":260,"v":89},{"x":262,"v":86.9},{"x":264,"v":93.5},{"x":266,"v":88.5},{"x":268,"v":90.5},{"x":270,"v":86.5},{"x":272,"v":89},{"x":274,"v":84.8},{"x":276,"v":86},{"x":278,"v":81.5},{"x":280,"v":83.5},{"x":282,"v":80.2},{"x":284,"v":83},{"x":286,"v":80.5},{"x":288,"v":83.2},{"x":290,"v":80.8},{"x":292,"v":85.1},{"x":294,"v":81.5},{"x":296,"v":83.8},{"x":298,"v":80},{"x":300,"v":82.5},{"x":302,"v":78.5},{"x":304,"v":82},{"x":306,"v":80.5},{"x":308,"v":84.5},{"x":310,"v":82.5},{"x":312,"v":84.8},{"x":314,"v":80.5},{"x":316,"v":80.5},{"x":318,"v":76.8},{"x":320,"v":78.5},{"x":322,"v":75.8},{"x":324,"v":78},{"x":326,"v":76},{"x":328,"v":78.2},{"x":330,"v":76.2},{"x":332,"v":80},{"x":334,"v":77.8},{"x":336,"v":80.5},{"x":338,"v":77.5},{"x":340,"v":79},{"x":342,"v":76},{"x":344,"v":78.5},{"x":346,"v":76.2},{"x":348,"v":78.2},{"x":350,"v":75.8},{"x":352,"v":77.8},{"x":354,"v":75.5},{"x":356,"v":74},{"x":358,"v":71},{"x":360,"v":68.5}],
    "glatt5": [{"x":0,"v":65.2},{"x":1.8,"v":62.4},{"x":3.8,"v":60.9},{"x":5.9,"v":61.3},{"x":7.6,"v":63.8},{"x":9.7,"v":68.8},{"x":11.7,"v":72.4},{"x":14.1,"v":73.5},{"x":16.4,"v":72.8},{"x":18.5,"v":71.7},{"x":21.4,"v":71.3},{"x":24.3,"v":70.6},{"x":26.7,"v":70.6},{"x":29.3,"v":72.5},{"x":32.2,"v":74.2},{"x":34.6,"v":73.8},{"x":37.5,"v":72.4},{"x":40.5,"v":71.5},{"x":43.4,"v":70.3},{"x":46.3,"v":69.9},{"x":49.3,"v":72},{"x":52.2,"v":73.1},{"x":55.1,"v":74.9},{"x":58,"v":76.3},{"x":61,"v":77.4},{"x":63.9,"v":76.8},{"x":66.8,"v":77.4},{"x":69.8,"v":76.3},{"x":72.7,"v":74.2},{"x":75.6,"v":72.4},{"x":78.6,"v":73.1},{"x":81.5,"v":74.9},{"x":83.8,"v":78.1},{"x":85.9,"v":81.7},{"x":88.2,"v":81.4},{"x":90.9,"v":77.4},{"x":93.8,"v":76.3},{"x":96.2,"v":74.6},{"x":99.1,"v":73.5},{"x":102,"v":75.6},{"x":105,"v":76.7},{"x":107.9,"v":77.8},{"x":110.8,"v":77.4},{"x":113.7,"v":74.6},{"x":116.7,"v":73.1},{"x":119.6,"v":73.5},{"x":122.5,"v":76.7},{"x":125.5,"v":80.3},{"x":128.4,"v":81.4},{"x":131.3,"v":82.1},{"x":134.3,"v":80.6},{"x":137.2,"v":78.7},{"x":140.1,"v":78.5},{"x":143.1,"v":78.9},{"x":146,"v":81.4},{"x":148.3,"v":84.9},{"x":151.3,"v":84.4},{"x":154.2,"v":82.8},{"x":157.1,"v":81.7},{"x":160.1,"v":81},{"x":163,"v":82.1},{"x":165.9,"v":82.4},{"x":168.9,"v":81.4},{"x":171.8,"v":81.1},{"x":175.3,"v":81},{"x":178.2,"v":78.1},{"x":181.2,"v":74.6},{"x":183.5,"v":76.3},{"x":186.5,"v":80.3},{"x":189.4,"v":84.6},{"x":192.3,"v":86},{"x":195.2,"v":85.3},{"x":198.2,"v":83.9},{"x":200.2,"v":83.2},{"x":203.2,"v":86.4},{"x":206.1,"v":89.6},{"x":208.4,"v":91},{"x":210.5,"v":93.9},{"x":212.8,"v":97.5},{"x":215.8,"v":96.6},{"x":217.8,"v":96.8},{"x":219.9,"v":100},{"x":222.8,"v":100.7},{"x":225.7,"v":100.9},{"x":228.1,"v":102.5},{"x":230.1,"v":103.6},{"x":231.9,"v":101.4},{"x":233.9,"v":95.3},{"x":236,"v":90.3},{"x":237.8,"v":87.8},{"x":239.8,"v":89.6},{"x":242.2,"v":94.6},{"x":244.2,"v":98.2},{"x":246.6,"v":99.6},{"x":248.6,"v":97.8},{"x":250.7,"v":96.1},{"x":253,"v":94.3},{"x":255.9,"v":92.8},{"x":258,"v":91.4},{"x":260.3,"v":90.3},{"x":263.3,"v":90.7},{"x":266.2,"v":89.6},{"x":269.1,"v":88.2},{"x":272.1,"v":87.1},{"x":275,"v":85.3},{"x":277.9,"v":83.2},{"x":280.9,"v":81.9},{"x":283.8,"v":81.7},{"x":286.7,"v":81.9},{"x":289.7,"v":81.9},{"x":292.6,"v":82.8},{"x":295.5,"v":82.4},{"x":298.4,"v":81.1},{"x":301.4,"v":81},{"x":304.3,"v":80.6},{"x":307.2,"v":82.4},{"x":310.2,"v":83.7},{"x":313.1,"v":82.8},{"x":316,"v":79.6},{"x":319,"v":77.8},{"x":321.9,"v":77.2},{"x":324.8,"v":76.8},{"x":327.8,"v":76.8},{"x":330.1,"v":77.8},{"x":333,"v":78.9},{"x":336,"v":79.2},{"x":338.9,"v":78.3},{"x":341.8,"v":77.4},{"x":344.8,"v":77.6},{"x":347.7,"v":77.1},{"x":350.6,"v":77.1},{"x":353.6,"v":76.8},{"x":355.6,"v":75.6},{"x":357.7,"v":72.4},{"x":360,"v":68.7}],
    "raw6": [{"x":0,"v":78.5},{"x":2,"v":77.2},{"x":4,"v":76},{"x":6,"v":74.8},{"x":8,"v":72.5},{"x":10,"v":68.5},{"x":12,"v":64},{"x":14,"v":62},{"x":16,"v":60.9},{"x":18,"v":70.5},{"x":20,"v":76},{"x":22,"v":75},{"x":24,"v":77.5},{"x":26,"v":78.5},{"x":28,"v":75},{"x":30,"v":71.5},{"x":32,"v":68.5},{"x":34,"v":67},{"x":36,"v":67.2},{"x":38,"v":65},{"x":40,"v":64},{"x":42,"v":69.5},{"x":44,"v":73},{"x":46,"v":76.2},{"x":48,"v":80.4},{"x":50,"v":74.5},{"x":52,"v":75.8},{"x":54,"v":73.8},{"x":56,"v":75.5},{"x":58,"v":73.5},{"x":60,"v":76},{"x":62,"v":74.5},{"x":64,"v":77.8},{"x":66,"v":76.5},{"x":68,"v":79.5},{"x":70,"v":78},{"x":72,"v":81.8},{"x":74,"v":79},{"x":76,"v":81.5},{"x":78,"v":79},{"x":80,"v":81.8},{"x":82,"v":79.2},{"x":84,"v":81.5},{"x":86,"v":79},{"x":88,"v":83.4},{"x":90,"v":79.5},{"x":92,"v":81.8},{"x":94,"v":80},{"x":96,"v":82.5},{"x":98,"v":80.5},{"x":100,"v":79},{"x":102,"v":76.5},{"x":104,"v":76.2},{"x":106,"v":73.8},{"x":108,"v":73},{"x":110,"v":71},{"x":112,"v":74},{"x":114,"v":74.8},{"x":116,"v":78},{"x":118,"v":80},{"x":120,"v":82.2},{"x":122,"v":80.5},{"x":124,"v":84},{"x":126,"v":85.2},{"x":128,"v":80.5},{"x":130,"v":83},{"x":132,"v":81},{"x":134,"v":84},{"x":136,"v":81},{"x":138,"v":83.2},{"x":140,"v":84.5},{"x":142,"v":80.5},{"x":144,"v":81.5},{"x":146,"v":79},{"x":148,"v":80.5},{"x":150,"v":81.5},{"x":152,"v":85},{"x":154,"v":83.5},{"x":156,"v":87},{"x":158,"v":85.5},{"x":160,"v":89.2},{"x":162,"v":84.5},{"x":164,"v":83.5},{"x":166,"v":80},{"x":168,"v":77.5},{"x":170,"v":79.5},{"x":172,"v":76.5},{"x":174,"v":79.8},{"x":176,"v":78.8},{"x":178,"v":82.5},{"x":180,"v":81},{"x":182,"v":83.8},{"x":184,"v":81.5},{"x":186,"v":88.4},{"x":188,"v":83.5},{"x":190,"v":84.5},{"x":192,"v":80.5},{"x":194,"v":82.5},{"x":196,"v":79.5},{"x":198,"v":85},{"x":200,"v":86.5},{"x":202,"v":91},{"x":204,"v":94.2},{"x":206,"v":96},{"x":208,"v":94},{"x":210,"v":92.5},{"x":212,"v":86.9},{"x":214,"v":93.5},{"x":216,"v":91.5},{"x":218,"v":97},{"x":220,"v":97.5},{"x":222,"v":100.5},{"x":224,"v":104.5},{"x":226,"v":106.5},{"x":228,"v":111.3},{"x":230,"v":106},{"x":232,"v":101},{"x":234,"v":94},{"x":236,"v":88.5},{"x":238,"v":87},{"x":240,"v":91},{"x":242,"v":95},{"x":244,"v":99.5},{"x":246,"v":102},{"x":248,"v":97},{"x":250,"v":101},{"x":252,"v":96},{"x":254,"v":101},{"x":256,"v":95.5},{"x":258,"v":97.8},{"x":260,"v":93.5},{"x":262,"v":95},{"x":264,"v":91.5},{"x":266,"v":86.5},{"x":268,"v":91.8},{"x":270,"v":89.5},{"x":272,"v":94.5},{"x":274,"v":89},{"x":276,"v":90.5},{"x":278,"v":87.5},{"x":280,"v":87.5},{"x":282,"v":84},{"x":284,"v":83.8},{"x":286,"v":80.5},{"x":288,"v":80},{"x":290,"v":77.5},{"x":292,"v":80},{"x":294,"v":80},{"x":296,"v":84},{"x":298,"v":84},{"x":300,"v":86.5},{"x":302,"v":84.8},{"x":304,"v":87.2},{"x":306,"v":85.5},{"x":308,"v":87},{"x":310,"v":84},{"x":312,"v":83.5},{"x":314,"v":81},{"x":316,"v":82.8},{"x":318,"v":80.5},{"x":320,"v":81.2},{"x":322,"v":78.2},{"x":324,"v":78.8},{"x":326,"v":76},{"x":328,"v":76.8},{"x":330,"v":75.5},{"x":332,"v":78},{"x":334,"v":80.5},{"x":336,"v":82.5},{"x":338,"v":82.8},{"x":340,"v":85.5},{"x":342,"v":86.2},{"x":344,"v":85},{"x":346,"v":82.5},{"x":348,"v":80.2},{"x":350,"v":79.5},{"x":352,"v":78},{"x":354,"v":79.2},{"x":356,"v":77.8},{"x":358,"v":78.8},{"x":360,"v":77}],
    "glatt6": [{"x":0,"v":78.1},{"x":2.6,"v":76.8},{"x":5.6,"v":75.3},{"x":7.9,"v":73.5},{"x":10,"v":69.3},{"x":12,"v":65.1},{"x":13.8,"v":63},{"x":15.5,"v":63.4},{"x":17.3,"v":68.5},{"x":19.3,"v":73.9},{"x":21.1,"v":76.2},{"x":23.1,"v":76.3},{"x":26.1,"v":76},{"x":28.1,"v":74.3},{"x":29.9,"v":70.8},{"x":31.9,"v":67.8},{"x":34.3,"v":66.6},{"x":37.2,"v":65.9},{"x":39.2,"v":65.5},{"x":41.3,"v":67.8},{"x":43.1,"v":71.6},{"x":45.1,"v":74.7},{"x":47.2,"v":75.8},{"x":49.5,"v":75.4},{"x":51.8,"v":74.7},{"x":54.8,"v":74.7},{"x":58.3,"v":74.3},{"x":61.2,"v":75.3},{"x":64.1,"v":76.9},{"x":67.1,"v":78.5},{"x":70,"v":79.2},{"x":72.9,"v":80.2},{"x":75.9,"v":80},{"x":78.8,"v":80.2},{"x":81.7,"v":80.4},{"x":84.7,"v":80.2},{"x":87.6,"v":80},{"x":90.5,"v":80.4},{"x":93.4,"v":80.5},{"x":96.4,"v":81.5},{"x":98.7,"v":80.8},{"x":101.1,"v":77.7},{"x":104,"v":75.4},{"x":106.9,"v":73.5},{"x":109.8,"v":72.5},{"x":112.8,"v":73.1},{"x":115.7,"v":76.6},{"x":118.6,"v":80.4},{"x":121.6,"v":81.5},{"x":124.5,"v":83.1},{"x":127.4,"v":81.7},{"x":130.3,"v":81.5},{"x":133.3,"v":82.7},{"x":136.2,"v":82.1},{"x":139.1,"v":81.9},{"x":142.1,"v":81.9},{"x":145,"v":80.4},{"x":147.9,"v":80},{"x":150.8,"v":82.3},{"x":153.8,"v":84.2},{"x":156.7,"v":86.1},{"x":159.6,"v":86.5},{"x":162.6,"v":85.3},{"x":165.5,"v":81.5},{"x":168.4,"v":78.9},{"x":171.4,"v":78.3},{"x":174.3,"v":78.6},{"x":177.2,"v":80.4},{"x":180.1,"v":82.4},{"x":183.1,"v":82.7},{"x":186,"v":82.7},{"x":188.9,"v":84.6},{"x":191.9,"v":82.3},{"x":194.8,"v":81.1},{"x":197.1,"v":83.4},{"x":199.5,"v":86.1},{"x":201.8,"v":89.9},{"x":204.2,"v":93.4},{"x":206.5,"v":94.9},{"x":208.3,"v":95.3},{"x":210.6,"v":93},{"x":213.5,"v":92.6},{"x":215.9,"v":93},{"x":218.8,"v":95.6},{"x":221.1,"v":98.3},{"x":223.5,"v":102.9},{"x":225.8,"v":106.7},{"x":228.2,"v":109},{"x":229.9,"v":107.1},{"x":231.7,"v":102.9},{"x":233.5,"v":96.8},{"x":235.5,"v":89.9},{"x":237.5,"v":87.6},{"x":239.3,"v":89.2},{"x":241.6,"v":94.5},{"x":244,"v":97.6},{"x":246.3,"v":98.7},{"x":248.7,"v":98.3},{"x":250.4,"v":97.6},{"x":252.8,"v":97.9},{"x":255.1,"v":96.8},{"x":258.1,"v":96},{"x":261,"v":94.9},{"x":263.3,"v":92.6},{"x":266.3,"v":89.3},{"x":268.6,"v":90.3},{"x":271.5,"v":91.5},{"x":274.5,"v":90.3},{"x":277.4,"v":89.2},{"x":280.3,"v":86.9},{"x":283.2,"v":83.8},{"x":286.2,"v":81.5},{"x":289.1,"v":79.2},{"x":292,"v":78.9},{"x":294.4,"v":80.8},{"x":297.3,"v":84.2},{"x":300.2,"v":85.3},{"x":303.2,"v":86.1},{"x":306.1,"v":86.5},{"x":309,"v":85.5},{"x":312,"v":82.7},{"x":314.9,"v":81.9},{"x":317.8,"v":81.4},{"x":320.8,"v":80},{"x":323.7,"v":78.1},{"x":326.6,"v":76.9},{"x":329.5,"v":76.2},{"x":332.5,"v":78.5},{"x":335.4,"v":81.9},{"x":338.3,"v":83.4},{"x":341.3,"v":85.3},{"x":343.6,"v":85},{"x":346.5,"v":82.3},{"x":349.5,"v":79.6},{"x":352.4,"v":78.5},{"x":355.3,"v":78.3},{"x":357.7,"v":78.1},{"x":360,"v":77.3}]
  },
  "concat": [
    {
      "width": 409, "height": 245,
      "title": "Drehwinkelsynchr. 𝐼𝑞-Strom (𝑇𝐴 = 000𝜇m | M01)",
      "layer": [
        {"data": {"name": "raw1"}, "mark": {"type": "line", "strokeWidth": 1.3, "opacity": 0.6, "clip": true},
         "encoding": {
           "x": {"field": "x", "type": "quantitative", "scale": {"domain": [0, 360], "nice": false}, "axis": {"values": [0, 60, 120, 180, 240, 300, 360], "labels": false, "title": null}},
           "y": {"field": "v", "type": "quantitative", "scale": {"domain": [55.7, 102.1], "nice": false, "zero": false}, "axis": {"values": [60, 70, 80, 90, 100], "title": "𝐼𝑞-Strom [A]"}},
           "color": {"datum": "Rohsignal", "type": "nominal", "scale": {"domain": ["Rohsignal", "Glättung"], "range": ["#ffa500", "#0000ff"]},
             "legend": {"title": null, "encode": {"symbols": {"strokeWidth": {"value": {"expr": "datum.value === 'Glättung' ? 2.4 : 1.3"}}, "opacity": {"value": {"expr": "datum.value === 'Glättung' ? 1 : 0.6"}}}}}}
         }},
        {"data": {"name": "glatt1"}, "mark": {"type": "line", "strokeWidth": 2.4, "interpolate": "monotone", "clip": true},
         "encoding": {"x": {"field": "x", "type": "quantitative"}, "y": {"field": "v", "type": "quantitative"}, "color": {"datum": "Glättung", "type": "nominal"}}},
        {"data": {"values": [{"v": 100}]}, "mark": {"type": "rule", "color": "#ff0000", "strokeWidth": 2}, "encoding": {"y": {"field": "v", "type": "quantitative"}}},
        {"data": {"values": [{"v": 92}]}, "mark": {"type": "rule", "color": "#bfbf00", "strokeWidth": 2}, "encoding": {"y": {"field": "v", "type": "quantitative"}}}
      ]
    },
    {
      "width": 409, "height": 245,
      "title": "Drehwinkelsynchr. 𝐼𝑞-Strom (𝑇𝐴 = 000𝜇m | M03)",
      "layer": [
        {"data": {"name": "raw2"}, "mark": {"type": "line", "strokeWidth": 1.3, "opacity": 0.6, "clip": true},
         "encoding": {
           "x": {"field": "x", "type": "quantitative", "scale": {"domain": [0, 360], "nice": false}, "axis": {"values": [0, 60, 120, 180, 240, 300, 360], "labels": false, "title": null}},
           "y": {"field": "v", "type": "quantitative", "scale": {"domain": [55.0, 102.1], "nice": false, "zero": false}, "axis": {"values": [60, 70, 80, 90, 100], "title": null}},
           "color": {"datum": "Rohsignal", "type": "nominal", "scale": {"domain": ["Rohsignal", "Glättung"], "range": ["#ffa500", "#0000ff"]},
             "legend": {"title": null, "encode": {"symbols": {"strokeWidth": {"value": {"expr": "datum.value === 'Glättung' ? 2.4 : 1.3"}}, "opacity": {"value": {"expr": "datum.value === 'Glättung' ? 1 : 0.6"}}}}}}
         }},
        {"data": {"name": "glatt2"}, "mark": {"type": "line", "strokeWidth": 2.4, "interpolate": "monotone", "clip": true},
         "encoding": {"x": {"field": "x", "type": "quantitative"}, "y": {"field": "v", "type": "quantitative"}, "color": {"datum": "Glättung", "type": "nominal"}}},
        {"data": {"values": [{"v": 100}]}, "mark": {"type": "rule", "color": "#ff0000", "strokeWidth": 2}, "encoding": {"y": {"field": "v", "type": "quantitative"}}},
        {"data": {"values": [{"v": 92}]}, "mark": {"type": "rule", "color": "#bfbf00", "strokeWidth": 2}, "encoding": {"y": {"field": "v", "type": "quantitative"}}}
      ]
    },
    {
      "width": 409, "height": 244,
      "title": "Drehwinkelsynchr. 𝐼𝑞-Strom (𝑇𝐴 = 100𝜇m | M01)",
      "layer": [
        {"data": {"name": "raw3"}, "mark": {"type": "line", "strokeWidth": 1.3, "opacity": 0.6, "clip": true},
         "encoding": {
           "x": {"field": "x", "type": "quantitative", "scale": {"domain": [0, 360], "nice": false}, "axis": {"values": [0, 60, 120, 180, 240, 300, 360], "labels": false, "title": null}},
           "y": {"field": "v", "type": "quantitative", "scale": {"domain": [56.5, 101.9], "nice": false, "zero": false}, "axis": {"values": [60, 70, 80, 90, 100], "title": "𝐼𝑞-Strom [A]"}},
           "color": {"datum": "Rohsignal", "type": "nominal", "scale": {"domain": ["Rohsignal", "Glättung"], "range": ["#ffa500", "#0000ff"]},
             "legend": {"title": null, "encode": {"symbols": {"strokeWidth": {"value": {"expr": "datum.value === 'Glättung' ? 2.4 : 1.3"}}, "opacity": {"value": {"expr": "datum.value === 'Glättung' ? 1 : 0.6"}}}}}}
         }},
        {"data": {"name": "glatt3"}, "mark": {"type": "line", "strokeWidth": 2.4, "interpolate": "monotone", "clip": true},
         "encoding": {"x": {"field": "x", "type": "quantitative"}, "y": {"field": "v", "type": "quantitative"}, "color": {"datum": "Glättung", "type": "nominal"}}},
        {"data": {"values": [{"v": 100}]}, "mark": {"type": "rule", "color": "#ff0000", "strokeWidth": 2}, "encoding": {"y": {"field": "v", "type": "quantitative"}}},
        {"data": {"values": [{"v": 92}]}, "mark": {"type": "rule", "color": "#bfbf00", "strokeWidth": 2}, "encoding": {"y": {"field": "v", "type": "quantitative"}}}
      ]
    },
    {
      "width": 409, "height": 244,
      "title": "Drehwinkelsynchr. 𝐼𝑞-Strom (𝑇𝐴 = 100𝜇m | M02)",
      "layer": [
        {"data": {"name": "raw4"}, "mark": {"type": "line", "strokeWidth": 1.3, "opacity": 0.6, "clip": true},
         "encoding": {
           "x": {"field": "x", "type": "quantitative", "scale": {"domain": [0, 360], "nice": false}, "axis": {"values": [0, 60, 120, 180, 240, 300, 360], "labels": false, "title": null}},
           "y": {"field": "v", "type": "quantitative", "scale": {"domain": [59.1, 101.8], "nice": false, "zero": false}, "axis": {"values": [60, 70, 80, 90, 100], "title": null}},
           "color": {"datum": "Rohsignal", "type": "nominal", "scale": {"domain": ["Rohsignal", "Glättung"], "range": ["#ffa500", "#0000ff"]},
             "legend": {"title": null, "encode": {"symbols": {"strokeWidth": {"value": {"expr": "datum.value === 'Glättung' ? 2.4 : 1.3"}}, "opacity": {"value": {"expr": "datum.value === 'Glättung' ? 1 : 0.6"}}}}}}
         }},
        {"data": {"name": "glatt4"}, "mark": {"type": "line", "strokeWidth": 2.4, "interpolate": "monotone", "clip": true},
         "encoding": {"x": {"field": "x", "type": "quantitative"}, "y": {"field": "v", "type": "quantitative"}, "color": {"datum": "Glättung", "type": "nominal"}}},
        {"data": {"values": [{"v": 100}]}, "mark": {"type": "rule", "color": "#ff0000", "strokeWidth": 2}, "encoding": {"y": {"field": "v", "type": "quantitative"}}},
        {"data": {"values": [{"v": 92}]}, "mark": {"type": "rule", "color": "#bfbf00", "strokeWidth": 2}, "encoding": {"y": {"field": "v", "type": "quantitative"}}}
      ]
    },
    {
      "width": 409, "height": 243,
      "title": "Drehwinkelsynchr. 𝐼𝑞-Strom (𝑇𝐴 = 500𝜇m | M03)",
      "layer": [
        {"data": {"name": "raw5"}, "mark": {"type": "line", "strokeWidth": 1.3, "opacity": 0.6, "clip": true},
         "encoding": {
           "x": {"field": "x", "type": "quantitative", "scale": {"domain": [0, 360], "nice": false}, "axis": {"values": [0, 60, 120, 180, 240, 300, 360], "title": "Position Antriebsrad [°]"}},
           "y": {"field": "v", "type": "quantitative", "scale": {"domain": [55.3, 107.7], "nice": false, "zero": false}, "axis": {"values": [60, 70, 80, 90, 100], "title": "𝐼𝑞-Strom [A]"}},
           "color": {"datum": "Rohsignal", "type": "nominal", "scale": {"domain": ["Rohsignal", "Glättung"], "range": ["#ffa500", "#0000ff"]},
             "legend": {"title": null, "encode": {"symbols": {"strokeWidth": {"value": {"expr": "datum.value === 'Glättung' ? 2.4 : 1.3"}}, "opacity": {"value": {"expr": "datum.value === 'Glättung' ? 1 : 0.6"}}}}}}
         }},
        {"data": {"name": "glatt5"}, "mark": {"type": "line", "strokeWidth": 2.4, "interpolate": "monotone", "clip": true},
         "encoding": {"x": {"field": "x", "type": "quantitative"}, "y": {"field": "v", "type": "quantitative"}, "color": {"datum": "Glättung", "type": "nominal"}}},
        {"data": {"values": [{"v": 100}]}, "mark": {"type": "rule", "color": "#ff0000", "strokeWidth": 2}, "encoding": {"y": {"field": "v", "type": "quantitative"}}},
        {"data": {"values": [{"v": 92}]}, "mark": {"type": "rule", "color": "#bfbf00", "strokeWidth": 2}, "encoding": {"y": {"field": "v", "type": "quantitative"}}}
      ]
    },
    {
      "width": 409, "height": 243,
      "title": "Drehwinkelsynchr. 𝐼𝑞-Strom (𝑇𝐴 = 500𝜇m | M04)",
      "layer": [
        {"data": {"name": "raw6"}, "mark": {"type": "line", "strokeWidth": 1.3, "opacity": 0.6, "clip": true},
         "encoding": {
           "x": {"field": "x", "type": "quantitative", "scale": {"domain": [0, 360], "nice": false}, "axis": {"values": [0, 60, 120, 180, 240, 300, 360], "title": "Position Antriebsrad [°]"}},
           "y": {"field": "v", "type": "quantitative", "scale": {"domain": [58.0, 113.7], "nice": false, "zero": false}, "axis": {"values": [60, 70, 80, 90, 100, 110], "title": null}},
           "color": {"datum": "Rohsignal", "type": "nominal", "scale": {"domain": ["Rohsignal", "Glättung"], "range": ["#ffa500", "#0000ff"]},
             "legend": {"title": null, "encode": {"symbols": {"strokeWidth": {"value": {"expr": "datum.value === 'Glättung' ? 2.4 : 1.3"}}, "opacity": {"value": {"expr": "datum.value === 'Glättung' ? 1 : 0.6"}}}}}}
         }},
        {"data": {"name": "glatt6"}, "mark": {"type": "line", "strokeWidth": 2.4, "interpolate": "monotone", "clip": true},
         "encoding": {"x": {"field": "x", "type": "quantitative"}, "y": {"field": "v", "type": "quantitative"}, "color": {"datum": "Glättung", "type": "nominal"}}},
        {"data": {"values": [{"v": 100}]}, "mark": {"type": "rule", "color": "#ff0000", "strokeWidth": 2}, "encoding": {"y": {"field": "v", "type": "quantitative"}}},
        {"data": {"values": [{"v": 92}]}, "mark": {"type": "rule", "color": "#bfbf00", "strokeWidth": 2}, "encoding": {"y": {"field": "v", "type": "quantitative"}}}
      ]
    }
  ]
}
